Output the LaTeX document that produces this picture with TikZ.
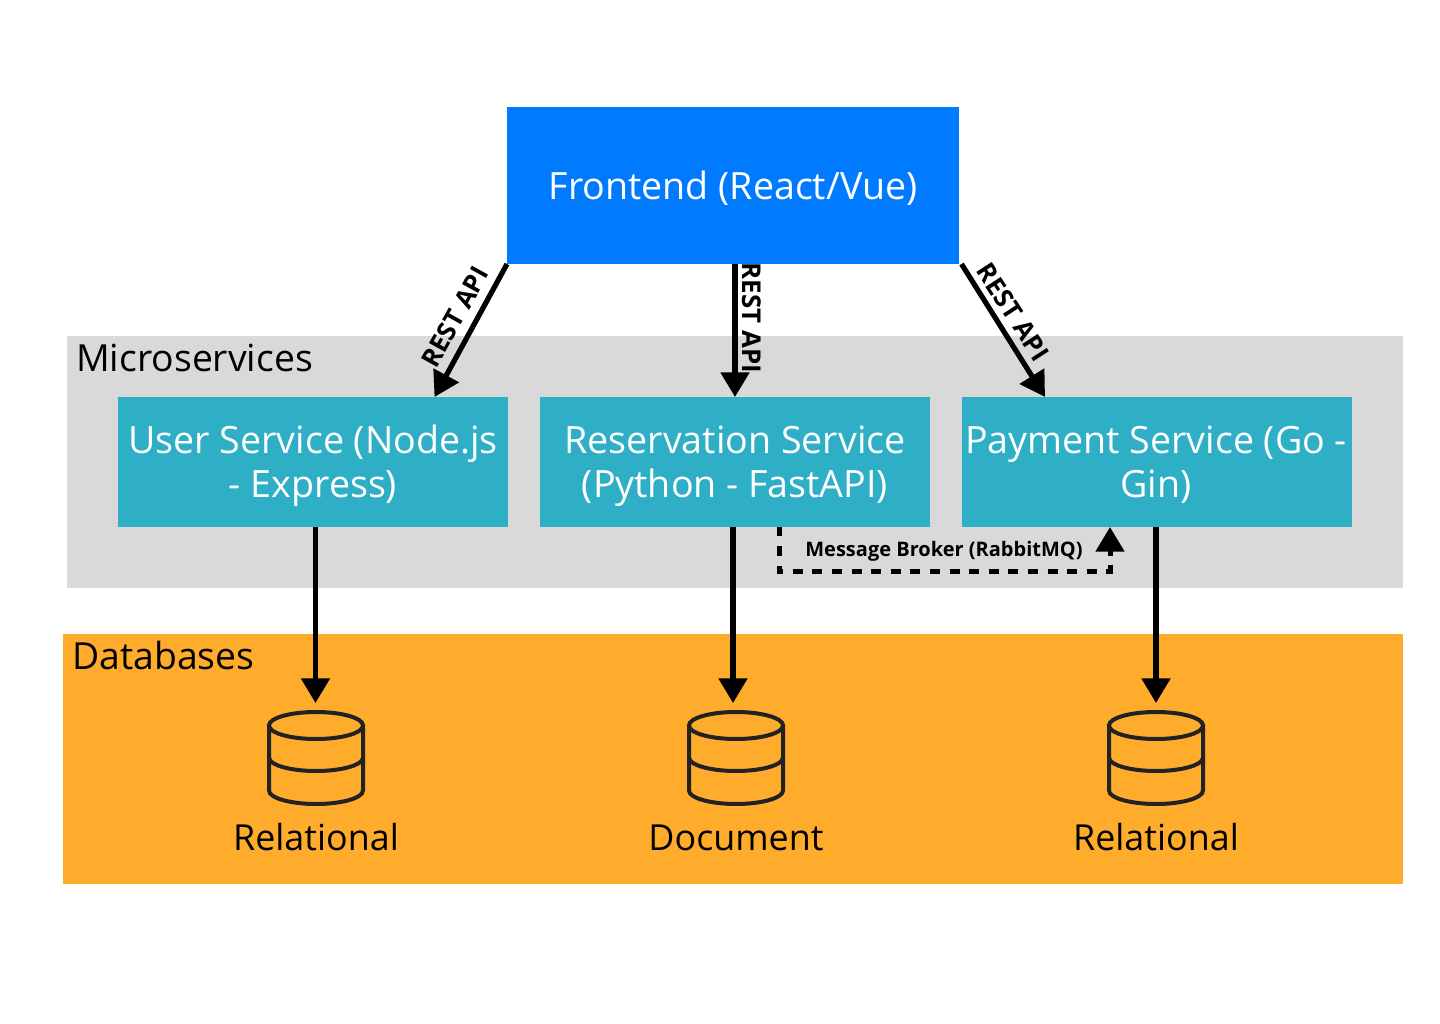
\documentclass[tikz,border=0pt]{standalone}
\usepackage{fontspec}
\setmainfont{Open Sans}
\usetikzlibrary{arrows.meta}
\definecolor{frontblue}{HTML}{007BFF}
\definecolor{svcteal}{HTML}{2EAFC6}
\definecolor{msgray}{HTML}{D9D9D9}
\definecolor{dborange}{HTML}{FFAB2B}
\definecolor{dbink}{HTML}{222222}
\tikzset{
  x=0.75pt,y=-0.75pt,
  box/.style={anchor=north west,inner sep=0pt,outer sep=0pt},
  bigtext/.style={font=\fontsize{28pt}{33pt}\selectfont,text=black},
  dbtext/.style={font=\fontsize{26.9pt}{33pt}\selectfont,text=black},
  whitetext/.style={font=\fontsize{28.2pt}{33pt}\selectfont,text=white,align=center},
  edgetext/.style={font=\bfseries\fontsize{19.4pt}{22pt}\selectfont,text=black,inner sep=0pt},
  brokertext/.style={font=\bfseries\fontsize{15pt}{18pt}\selectfont,text=black,inner sep=0pt},
  flow/.style={draw=black,line width=3.9pt,-{Triangle[length=18.5pt,width=21pt]}},
  cyl/.style={draw=dbink,line width=3pt,line cap=round},
}
\begin{document}
\begin{tikzpicture}
\useasboundingbox (0,0) rectangle (1440,1024);
\fill[white] (0,0) rectangle (1440,1024);
% panels
\node[box,fill=msgray,minimum width=1002pt,minimum height=189pt] (ms) at (67,336) {};
\node[box,fill=dborange,minimum width=1005pt,minimum height=187.5pt] (db) at (63,634) {};
\node[bigtext,anchor=base west,inner sep=0pt] (mslabel) at (76,371) {Microservices};
\node[bigtext,anchor=base west,inner sep=0pt] (dblabel) at (72,669) {Databases};
% boxes
\node[box,fill=frontblue,minimum width=339pt,minimum height=117.75pt] (front) at (507,107) {};
\node[whitetext] (fronttext) at (733,191) {\strut Frontend (React/Vue)};
\node[box,fill=svcteal,minimum width=292.5pt,minimum height=97.5pt] (user) at (118,397) {};
\node[box,fill=svcteal,minimum width=292.5pt,minimum height=97.5pt] (resv) at (540,397) {};
\node[box,fill=svcteal,minimum width=292.5pt,minimum height=97.5pt] (pay) at (962,397) {};
\node[whitetext] (usertext) at (313,467) {\strut User Service (Node.js\\\strut - Express)};
\node[whitetext] (resvtext) at (735,467) {\strut Reservation Service\\\strut (Python - FastAPI)};
\node[whitetext] (paytext) at (1156,467) {\strut Payment Service (Go -\\\strut Gin)};
% coordinates
\coordinate (a1) at (507,264);
\coordinate (a2) at (434.5,397);
\coordinate (b1) at (735,264);
\coordinate (b2) at (735,397);
\coordinate (c1) at (961.5,264);
\coordinate (c2) at (1045,397);
\coordinate (u1) at (315.5,527);
\coordinate (u2) at (315.5,703);
\coordinate (r1) at (733,527);
\coordinate (r2) at (733,703);
\coordinate (p1) at (1156,527);
\coordinate (p2) at (1156,703);
\coordinate (m1) at (779,527);
\coordinate (m2) at (779,571.5);
\coordinate (m3) at (1110,571.5);
\coordinate (m4) at (1110,527);
% connectors
\draw[flow] (a1) -- (a2);
\draw[flow] (b1) -- (b2);
\draw[flow] (c1) -- (c2);
\draw[flow] (u1) -- (u2);
\draw[flow] (r1) -- (r2);
\draw[flow] (p1) -- (p2);
\draw[flow,line width=3.75pt,dash pattern=on 7.5pt off 7.2pt,dash phase=0.45pt] (m1) -- (m2) -- (m3) -- (m4);
% edge labels
\node[edgetext,rotate=61] (l1) at (455,317) {REST API};
\node[edgetext,rotate=-90] (l2) at (752,318) {REST API};
\node[edgetext,rotate=-57] (l3) at (1013,312) {REST API};
\node[brokertext] (l4) at (944,551) {Message Broker (RabbitMQ)};
% cylinders
\foreach \cx/\nm in {316/dba,736/dbb,1156/dbc}{
  \draw[cyl] (\cx,725.5) ellipse [x radius=47,y radius=13.5];
  \draw[cyl] (\cx-47,725.5) -- (\cx-47,790.5) arc[start angle=180,end angle=0,x radius=47,y radius=13.5] -- (\cx+47,725.5);
  \draw[cyl] (\cx-47,757.5) arc[start angle=180,end angle=0,x radius=47,y radius=13.5];
}
\node[dbtext] (t1) at (316,842) {\strut Relational};
\node[dbtext] (t2) at (736,842) {\strut Document};
\node[dbtext] (t3) at (1156,842) {\strut Relational};
\end{tikzpicture}
\end{document}
